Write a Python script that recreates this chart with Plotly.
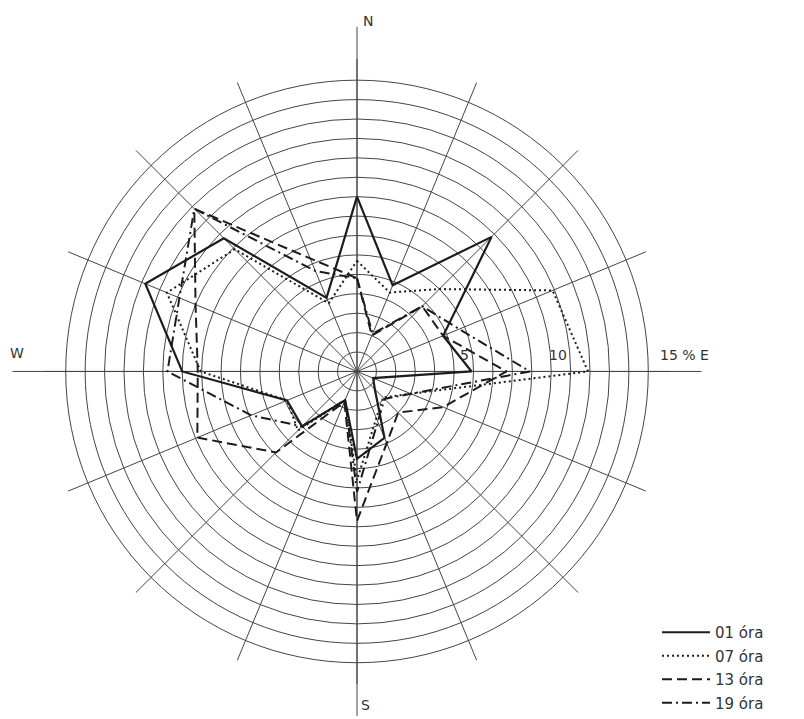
import plotly.graph_objects as go

# ---- data -------------------------------------------------------------
directions = ["N", "NNE", "NE", "ENE", "E", "ESE", "SE", "SSE",
              "S", "SSW", "SW", "WSW", "W", "WNW", "NW", "NNW"]
angles = [i * 22.5 for i in range(16)]

ora01 = [9.0, 4.8, 9.8, 4.8, 5.9, 0.9, 1.3, 3.7, 4.5, 1.6, 4.0, 3.9, 9.0, 11.8, 9.7, 4.1]
ora07 = [5.7, 4.4, 6.0, 10.9, 11.9, 3.0, 1.9, 2.6, 5.6, 1.6, 4.3, 3.9, 8.05, 10.6, 8.9, 3.8]
ora13 = [4.8, 2.0, 4.75, 4.8, 7.7, 4.8, 3.0, 4.0, 7.7, 1.7, 5.9, 8.9, 8.2, 9.0, 11.85, 6.3]
ora19 = [4.8, 2.1, 4.75, 5.7, 8.9, 3.0, 2.0, 2.8, 6.2, 1.6, 4.0, 5.9, 9.76, 9.9, 11.85, 5.6]

series_names = ["01 óra", "07 óra", "13 óra", "19 óra"]
series_values = [ora01, ora07, ora13, ora19]
series_dash = ["solid", "2px,3px", "10px,5px", "10px,4px,2px,4px"]

ring_values = list(range(1, 16))
scale_labels = [5, 10]
compass = [0, 90, 180, 270]

# ---- geometry (pixels) -------------------------------------------------
W, H = 804, 719
cx, cy = 357, 373
px_per_unit = 19.5
r_data_max = 16.1
R_data = r_data_max * px_per_unit
R_axes = 346

def dom(R):
    return dict(x=[(cx - R) / W, (cx + R) / W],
                y=[max(0, 1 - (cy + R) / H), 1 - (cy - R) / H])

ink = "#1c1c1c"
grid = "#454545"

fig = go.Figure()

# carrier trace so the long compass-axis subplot gets drawn
fig.add_trace(go.Scatterpolar(r=[0], theta=[0], mode="markers", subplot="polar",
                              marker=dict(opacity=0), showlegend=False,
                              hoverinfo="skip"))

for name, vals, dash in zip(series_names, series_values, series_dash):
    fig.add_trace(go.Scatterpolar(
        r=vals + vals[:1], theta=angles + angles[:1],
        mode="lines", name=name, subplot="polar2",
        legendgroup=name,
        line=dict(color=ink, width=2.2 if dash == "solid" else 2, dash=dash),
    ))

fig.update_layout(
    width=W, height=H,
    margin=dict(l=0, r=0, t=0, b=0),
    paper_bgcolor="white", plot_bgcolor="white",
    showlegend=True,
    polar=dict(
        domain=dom(R_axes), bgcolor="rgba(0,0,0,0)",
        angularaxis=dict(rotation=90, direction="clockwise",
                         tickvals=compass, showticklabels=False,
                         ticks="", showline=False, gridcolor=grid, gridwidth=1),
        radialaxis=dict(range=[0, 1], showgrid=False, showline=False,
                        showticklabels=False, ticks=""),
    ),
    polar2=dict(
        domain=dom(R_data), bgcolor="rgba(0,0,0,0)",
        angularaxis=dict(rotation=90, direction="clockwise",
                         tickvals=angles, showticklabels=False,
                         ticks="", showline=False, gridcolor=grid, gridwidth=1),
        radialaxis=dict(range=[0, r_data_max], tickvals=ring_values,
                        showline=False, showticklabels=False, ticks="",
                        gridcolor=grid, gridwidth=1),
    ),
    legend=dict(x=657 / W, y=1 - 619 / H, xanchor="left", yanchor="top",
                font=dict(family="DejaVu Sans", size=15, color="#333"),
                itemwidth=48, tracegroupgap=1, bgcolor="rgba(0,0,0,0)"),
)

font = dict(family="DejaVu Sans", size=14, color="#333")
ann = []
for v, off in zip(scale_labels, [3, -5]):
    ann.append(dict(x=(cx + v * px_per_unit + off) / W, y=1 - (cy - 6) / H,
                    xref="paper", yref="paper", text=str(v), showarrow=False,
                    xanchor="left", yanchor="bottom", font=font))
ann.append(dict(x=(cx + 15 * px_per_unit + 8) / W, y=1 - (cy - 6) / H,
                xref="paper", yref="paper", text="15 % E", showarrow=False,
                xanchor="left", yanchor="bottom", font=font))
ann.append(dict(x=(cx + 4) / W, y=1 - 31 / H, xref="paper", yref="paper",
                text="N", showarrow=False, xanchor="left", yanchor="bottom", font=font))
ann.append(dict(x=(cx + 2) / W, y=1 - 698 / H, xref="paper", yref="paper",
                text="S", showarrow=False, xanchor="left", yanchor="top", font=font))
ann.append(dict(x=8 / W, y=1 - (cy - 8) / H, xref="paper", yref="paper",
                text="W", showarrow=False, xanchor="left", yanchor="bottom", font=font))
fig.update_layout(annotations=ann)

fig.write_html("out.html",
               config={"displayModeBar": False, "staticPlot": True},
               post_script="document.body.style.margin='0';"
                           "document.body.style.overflow='hidden';")
